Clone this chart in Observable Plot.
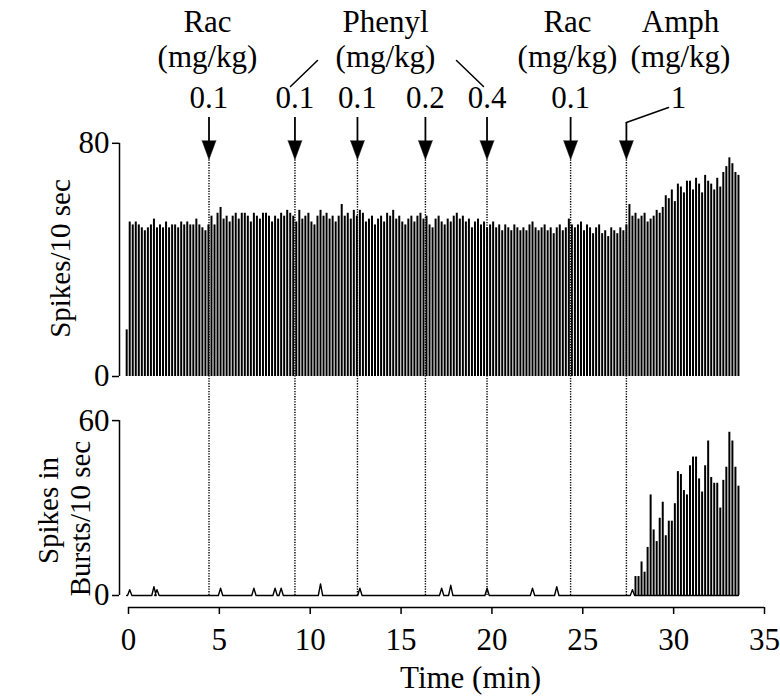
<!DOCTYPE html>
<html><head><meta charset="utf-8">
<script src="https://cdn.jsdelivr.net/npm/d3@7"></script>
<script src="https://cdn.jsdelivr.net/npm/@observablehq/plot@0.6"></script>
<style>html,body{margin:0;padding:0;background:#fff;} #chart svg{display:block;}</style>
</head><body><div id="chart"></div>
<script>
// ---- data (10-s bins, first bin at -0.1 min) ----
const binStart = -0.1;
const binWidth = 1 / 6;
const spikesPer10s = [
  16,
  53,52,53,52,51,50,51,52,54,51,52,51,53,51,52,52,51,53,52,53,52,52,54,52,51,50,52,
  55,52,56,58,54,55,53,55,56,54,56,56,55,53,56,55,54,56,56,55,53,55,54,56,55,57,
  56,55,53,57,54,55,56,53,52,55,57,55,56,54,55,53,55,59,55,56,54,57,55,57,56,53,54,
  55,52,54,55,53,56,55,57,54,55,53,52,54,55,53,55,56,54,55,52,
  51,54,55,53,52,54,53,55,56,54,55,53,54,51,53,54,52,53,51,52,53,51,52,
  50,52,51,50,52,51,50,51,50,52,53,51,50,51,52,50,51,49,51,52,50,51,54,52,
  51,52,53,50,52,51,49,51,52,49,50,48,51,50,49,51,50,52,59,
  55,56,54,55,56,53,54,55,57,56,58,62,61,
  64,60,66,65,63,67,67,64,68,66,63,69,67,
  66,64,68,65,70,72,75,73,70,69
];
const burstsPer10s = [
  0,2,0,0,0,0,0,0,0,3,2,0,0,0,0,0,0,0,0,0,
  0,0,0,0,0,0,0,0,0,0,0,2.5,0,0,0,0,0,0,0,0,
  0,0,2.5,0,0,0,0,0,0,2.5,0,2.5,0,0,0,0,0,0,0,0,
  0,0,0,0,4,0,0,0,0,0,0,0,0,0,0,0,0,2.5,0,0,
  0,0,0,0,0,0,0,0,0,0,0,0,0,0,0,0,0,0,0,0,
  0,0,0,0,2.5,0,0,3.5,0,0,0,0,0,0,0,0,0,0,0,2.5,
  0,0,0,0,0,0,0,0,0,0,0,0,0,0,2.5,0,0,0,0,0,
  0,0,3,0,0,0,0,0,0,0,0,0,0,0,0,0,0,0,0,0,
  0,0,0,0,0,0,0,
  2,6.5,6.5,11.5,8,16.5,34.5,22.5,18.5,26.5,32,20.5,25.5,25.5,31.5,42.5,41.5,36,34.5,44.5,
  47.5,47.5,40,35.5,44.5,53,40.5,38.5,38.5,30,39.5,44,56,53,44,37.5
];
const drugNames = ["Rac", "Phenyl", "Rac", "Amph"];
const drugUnits = ["(mg/kg)", "(mg/kg)", "(mg/kg)", "(mg/kg)"];
const injectionTimes = [4.43, 9.16, 12.6, 16.34, 19.73, 24.33, 27.4];
const doses = ["0.1", "0.1", "0.1", "0.2", "0.4", "0.1", "1"];
const xTicks = [0, 5, 10, 15, 20, 25, 30, 35];
const topTicks = [0, 80];
const bottomTicks = [0, 60];

// ---- layout helpers ----
const W = 780, H = 697;
const X0 = 128, X1 = 764;               // pixel of 0 and 35 min
const Y0 = 595, K = 174.9 / 60;         // bottom panel zero, px per spike
const tx = px => (px - X0) / ((X1 - X0) / 35);
const py = px => (Y0 - px) / K;
const T0 = py(376);                     // top panel zero (offset units)
const FONT = "Liberation Serif, Times New Roman, serif";
const FS = 31;     // horizontal text
const FSV = 29;    // rotated axis titles

const t = i => binStart + i * binWidth;
const topBars = spikesPer10s.map((v, i) => ({t: t(i), v}));
const bigBursts = burstsPer10s.map((v, i) => ({t: t(i), v})).filter(d => d.v >= 6);
const tracePts = [];
burstsPer10s.forEach((v, i) => {
  if (v > 0 && v < 6) {
    tracePts.push({t: t(i) - 0.12, v: 0}, {t: t(i), v}, {t: t(i) + 0.12, v: 0});
  } else tracePts.push({t: t(i), v: 0});
});

const drugX = [tx(207), tx(385), tx(567), tx(680)];
const doseX = injectionTimes.map((d, i) => i === 6 ? tx(678) : d);

const chart = Plot.plot({
  width: W, height: H,
  marginLeft: 119, marginRight: 16, marginTop: 0, marginBottom: 90,
  x: {domain: [0, 35], range: [X0, X1]},
  y: {domain: [0, 60], range: [Y0, Y0 - 60 * K]},
  style: {fontFamily: FONT, fontSize: FS + "px", color: "black", background: "white"},
  marks: [
    // top panel bars
    Plot.ruleX(topBars, {x: "t", y1: T0, y2: d => T0 + d.v, stroke: "black", strokeWidth: 2}),
    // bottom panel trace and bars
    Plot.line(tracePts, {x: "t", y: "v", stroke: "black", strokeWidth: 1.4}),
    Plot.ruleX(bigBursts, {x: "t", y1: 0, y2: "v", stroke: "black", strokeWidth: 2}),
    // dotted injection lines
    Plot.ruleX(injectionTimes, {x: d => d, y1: 0, y2: py(158), stroke: "black", strokeWidth: 1.4, strokeDasharray: "1.3,1.3"}),
    // arrow shafts
    Plot.ruleX(injectionTimes, {x: d => d, y1: py(141), y2: (d, i) => i === 6 ? py(122) : py(117), stroke: "black", strokeWidth: 1.8}),
    // arrow heads
    Plot.vector(injectionTimes, {x: d => d, y: py(140), length: 19, r: 7, rotate: 180, shape: "spike", anchor: "start", fill: "black", stroke: "black", strokeWidth: 0.5}),
    // leader lines
    Plot.line([{x: tx(290), y: py(86)}, {x: tx(317), y: py(60)}], {x: "x", y: "y", stroke: "black", strokeWidth: 1.5}),
    Plot.line([{x: tx(456), y: py(60)}, {x: tx(483), y: py(86)}], {x: "x", y: "y", stroke: "black", strokeWidth: 1.5}),
    Plot.line([{x: tx(668), y: py(107)}, {x: injectionTimes[6], y: py(122)}], {x: "x", y: "y", stroke: "black", strokeWidth: 1.5}),
    // annotation text
    Plot.text(drugNames, {x: (d, i) => drugX[i], y: py(22), text: d => d, fontSize: FS, fill: "black"}),
    Plot.text(drugUnits, {x: (d, i) => drugX[i], y: py(57), text: d => d, fontSize: FS, fill: "black"}),
    Plot.text(doses, {x: (d, i) => doseX[i], y: py(98), text: d => d, fontSize: FS, fill: "black"}),
    // y axes
    Plot.ruleX([tx(119)], {y1: 0, y2: 60, stroke: "black", strokeWidth: 1.5}),
    Plot.ruleX([tx(119)], {y1: T0, y2: T0 + 80, stroke: "black", strokeWidth: 1.5}),
    Plot.axisY([...bottomTicks, ...topTicks.map(v => T0 + v)], {
      tickFormat: d => d > 61 ? String(Math.round(d - T0)) : String(d),
      tickSize: 7, tickPadding: 3, fontSize: FS, strokeWidth: 1.5, label: null
    }),
    Plot.text(["Spikes/10 sec"], {x: tx(60), y: py(258), rotate: -90, text: d => d, fontSize: FSV, fill: "black"}),
    Plot.text(["Spikes in"], {x: tx(48), y: py(510), rotate: -90, text: d => d, fontSize: FSV, fill: "black"}),
    Plot.text(["Bursts/10 sec"], {x: tx(80), y: py(518), rotate: -90, text: d => d, fontSize: FSV, fill: "black"}),
    // x axis
    Plot.ruleY([py(607)], {x1: 0, x2: 35, stroke: "black", strokeWidth: 1.5}),
    Plot.axisX(xTicks, {tickSize: 7, tickPadding: 13, fontSize: FS, strokeWidth: 1.5, label: null}),
    Plot.text(["Time (min)"], {x: tx(470), y: py(678), text: d => d, fontSize: FS, fill: "black"})
  ]
});
document.getElementById("chart").appendChild(chart);
</script>
</body></html>
